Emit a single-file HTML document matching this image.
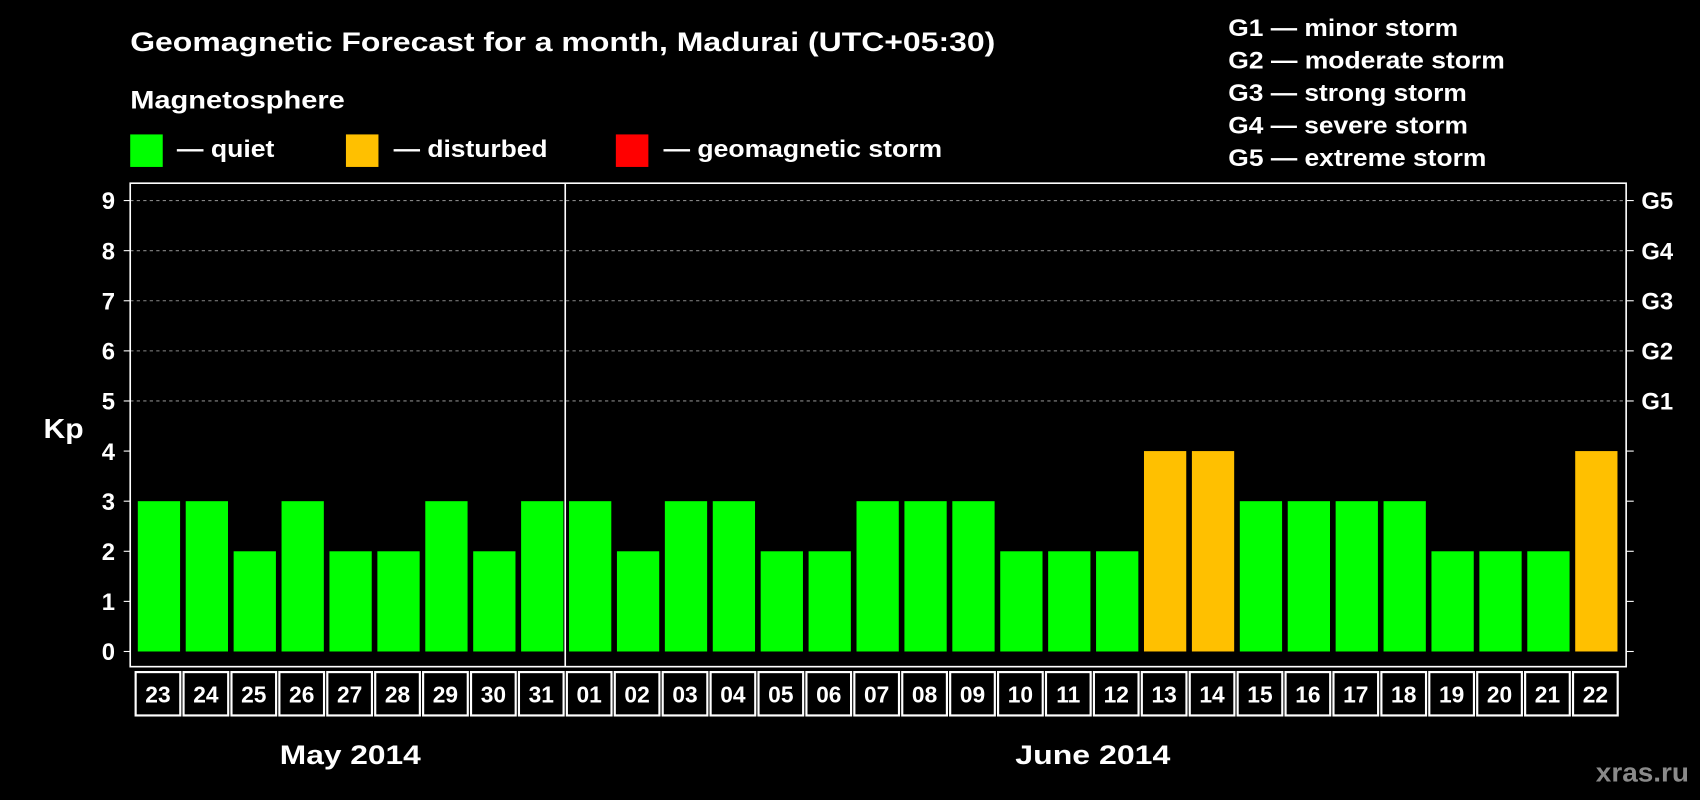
<!DOCTYPE html>
<html><head><meta charset="utf-8"><style>
html,body{margin:0;padding:0;background:#000;}
svg{display:block;font-family:"Liberation Sans",Arial,sans-serif;font-weight:bold;}
</style></head><body>
<svg id="chart" width="1700" height="800" viewBox="0 0 1568 738" xmlns="http://www.w3.org/2000/svg">
<rect width="1568" height="738" fill="#000"/>
<text x="120" y="47" fill="#fff" font-size="25" textLength="798" lengthAdjust="spacingAndGlyphs">Geomagnetic Forecast for a month, Madurai (UTC+05:30)</text>
<text x="120" y="100" fill="#fff" font-size="23" textLength="198" lengthAdjust="spacingAndGlyphs">Magnetosphere</text>
<g><rect x="120" y="124" width="30" height="30" fill="#00ff00"/><text x="163" y="145" fill="#fff" font-size="22" textLength="90" lengthAdjust="spacingAndGlyphs">— quiet</text></g>
<g><rect x="319" y="124" width="30" height="30" fill="#ffc000"/><text x="363" y="145" fill="#fff" font-size="22" textLength="142" lengthAdjust="spacingAndGlyphs">— disturbed</text></g>
<g><rect x="568" y="124" width="30" height="30" fill="#ff0000"/><text x="612" y="145" fill="#fff" font-size="22" textLength="257" lengthAdjust="spacingAndGlyphs">— geomagnetic storm</text></g>
<g fill="#fff" font-size="22">
<text x="1133" y="33" textLength="212" lengthAdjust="spacingAndGlyphs">G1 — minor storm</text>
<text x="1133" y="63" textLength="255" lengthAdjust="spacingAndGlyphs">G2 — moderate storm</text>
<text x="1133" y="93" textLength="220" lengthAdjust="spacingAndGlyphs">G3 — strong storm</text>
<text x="1133" y="123" textLength="221" lengthAdjust="spacingAndGlyphs">G4 — severe storm</text>
<text x="1133" y="153" textLength="238" lengthAdjust="spacingAndGlyphs">G5 — extreme storm</text>
</g>
<text x="40" y="404" fill="#fff" font-size="26" textLength="37" lengthAdjust="spacingAndGlyphs">Kp</text>
<g id="plot"></g>
<text x="323" y="705" fill="#fff" font-size="25" text-anchor="middle" textLength="130" lengthAdjust="spacingAndGlyphs">May 2014</text>
<text x="1008" y="705" fill="#fff" font-size="25" text-anchor="middle" textLength="143" lengthAdjust="spacingAndGlyphs">June 2014</text>
<text x="1558" y="721" fill="#8a8a8a" font-size="24" text-anchor="end" textLength="86" lengthAdjust="spacingAndGlyphs">xras.ru</text>
</svg>
<script>
const days = ["23","24","25","26","27","28","29","30","31","01","02","03","04","05","06","07","08","09","10","11","12","13","14","15","16","17","18","19","20","21","22"];
const kpValues = [3,3,2,3,2,2,3,2,3,3,2,3,3,2,2,3,3,3,2,2,2,4,4,3,3,3,3,2,2,2,4];
const yTicks = [0,1,2,3,4,5,6,7,8,9];
const gLabels = ["G1","G2","G3","G4","G5"];
const ns="http://www.w3.org/2000/svg";
const g=document.getElementById('plot');
const L=120,R=1500,T=169,B=615;
const y=v=>601-46.22*v;
const slot=44.2;
const x=i=>122+i*slot;
function mk(t,a){const e=document.createElementNS(ns,t);for(const k in a)e.setAttribute(k,a[k]);g.appendChild(e);return e;}
yTicks.forEach(v=>{
  if(v>=5){const l=mk('line',{x1:L,x2:R,y1:y(v),y2:y(v),stroke:'#888','stroke-dasharray':'3,3','stroke-width':1});
  
  }
  const t=mk('line',{x1:L-6,x2:L,y1:y(v),y2:y(v),stroke:'#fff'});
  
  
  const t2=mk('line',{x1:R,x2:R+7,y1:y(v),y2:y(v),stroke:'#fff'});
  
  
  const tx=mk('text',{x:L-14,y:y(v)+8,fill:'#fff','font-size':22,'text-anchor':'end'});tx.textContent=v;
  
  
});
gLabels.forEach((s,i)=>{
  const tx=mk('text',{x:R+14,y:y(i+5)+8,fill:'#fff','font-size':22});tx.textContent=s;
  
  
});
kpValues.forEach((v,i)=>{
  const c=v>=5?'#ff0000':(v>=4?'#ffc000':'#00ff00');
  const r=mk('rect',{x:x(i)+5,y:y(v),width:39,height:y(0)-y(v),fill:c});
  
  
  const b=mk('rect',{x:x(i)+3,y:B+5,width:slot-3,height:40,fill:'none',stroke:'#fff','stroke-width':2});
  
  
  const t=mk('text',{x:x(i)+3+(slot-3)/2,y:B+33,fill:'#fff','font-size':21,'text-anchor':'middle'});t.textContent=days[i];
  
  
});
const fr=mk('rect',{x:L,y:T,width:R-L,height:B-T,fill:'none',stroke:'#fff','stroke-width':1.5});


const sep=mk('line',{x1:x(9)+1.5,x2:x(9)+1.5,y1:T,y2:B,stroke:'#fff','stroke-width':1.5});


</script>
</body></html>
